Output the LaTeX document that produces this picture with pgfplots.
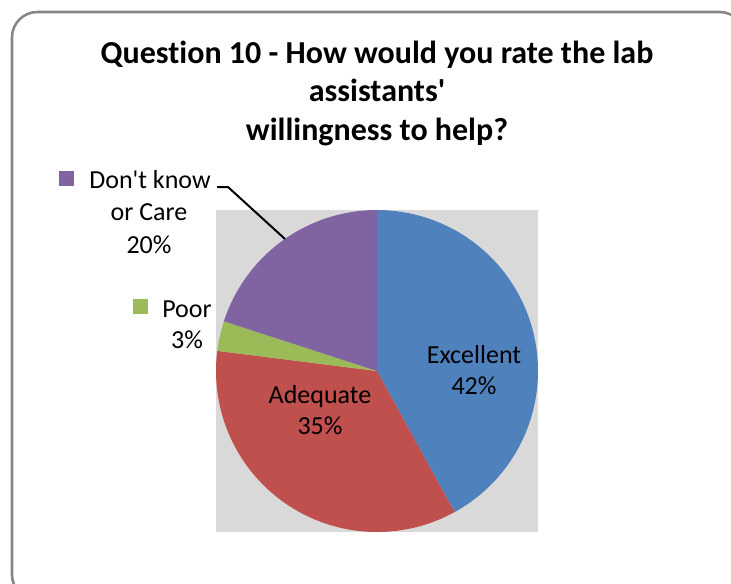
\documentclass[border=0pt]{standalone}
\usepackage{fontspec}
\setmainfont{Carlito}[Ligatures={NoCommon}]
\usepackage{pgfplots}
\pgfplotsset{compat=1.18}

\definecolor{exc}{HTML}{4F81BD}
\definecolor{adq}{HTML}{C0504D}
\definecolor{poor}{HTML}{9BBB59}
\definecolor{dkc}{HTML}{8064A2}
\definecolor{plotbg}{HTML}{D9D9D9}
\definecolor{frame}{HTML}{868686}

% pie: centre (377,371) px, radius 161 px, start at 90 deg, clockwise
% shares (%): Excellent 42, Adequate 35, Poor 3, Don't know or Care 20

\begin{document}
\begin{tikzpicture}[
    lbl/.style={anchor=base, font=\fontsize{19.5}{24}\selectfont},
    ttl/.style={anchor=base, font=\fontsize{24}{29}\selectfont\bfseries},
]
\begin{axis}[
    scale only axis,
    width=548.25pt, height=437.25pt,
    xmin=0, xmax=731, ymin=0, ymax=583,
    y dir=reverse,
    hide axis,
]
% plot area and chart frame
\fill[plotbg] (axis cs:216,210) rectangle (axis cs:538,532);
\draw[frame, line width=1.9pt, rounded corners=19pt] (axis cs:12,12) rectangle (axis cs:745,600);

\addplot[fill=exc, draw=none, domain={90-3.6*42}:90, samples=90, variable=\t]
    ({377+161*cos(\t)}, {371-161*sin(\t)}) -- (axis cs:377,371) -- cycle;
\addplot[fill=adq, draw=none, domain={90-3.6*77}:{90-3.6*42}, samples=80, variable=\t]
    ({377+161*cos(\t)}, {371-161*sin(\t)}) -- (axis cs:377,371) -- cycle;
\addplot[fill=poor, draw=none, domain={90-3.6*80}:{90-3.6*77}, samples=10, variable=\t]
    ({377+161*cos(\t)}, {371-161*sin(\t)}) -- (axis cs:377,371) -- cycle;
\addplot[fill=dkc, draw=none, domain={90-3.6*100}:{90-3.6*80}, samples=40, variable=\t]
    ({377+161*cos(\t)}, {371-161*sin(\t)}) -- (axis cs:377,371) -- cycle;

% title
\node[ttl] at (axis cs:377,63) {Question 10 - How would you rate the lab};
\node[ttl] at (axis cs:377,101.5) {assistants\textquotesingle};
\node[ttl] at (axis cs:377,140) {willingness to help?};

% data labels
\node[lbl] at (axis cs:474,363) {Excellent};
\node[lbl] at (axis cs:474,394) {42\%};
\node[lbl] at (axis cs:320,403) {Adequate};
\node[lbl] at (axis cs:320,434) {35\%};

\fill[poor] (axis cs:133,299) rectangle (axis cs:148,314);
\node[lbl] at (axis cs:187,317) {Poor};
\node[lbl] at (axis cs:187,348) {3\%};

\fill[dkc] (axis cs:59,171) rectangle (axis cs:74,186);
\node[lbl] at (axis cs:150,188) {Don\textquotesingle t know};
\node[lbl] at (axis cs:149,220.5) {or Care};
\node[lbl] at (axis cs:149,253) {20\%};
\draw[black, line width=1.5pt] (axis cs:217,187) -- (axis cs:228,187) -- (axis cs:285,239);
\end{axis}
\pgfresetboundingbox
\path[use as bounding box] (current axis.south west) rectangle (current axis.north east);
\end{tikzpicture}
\end{document}
